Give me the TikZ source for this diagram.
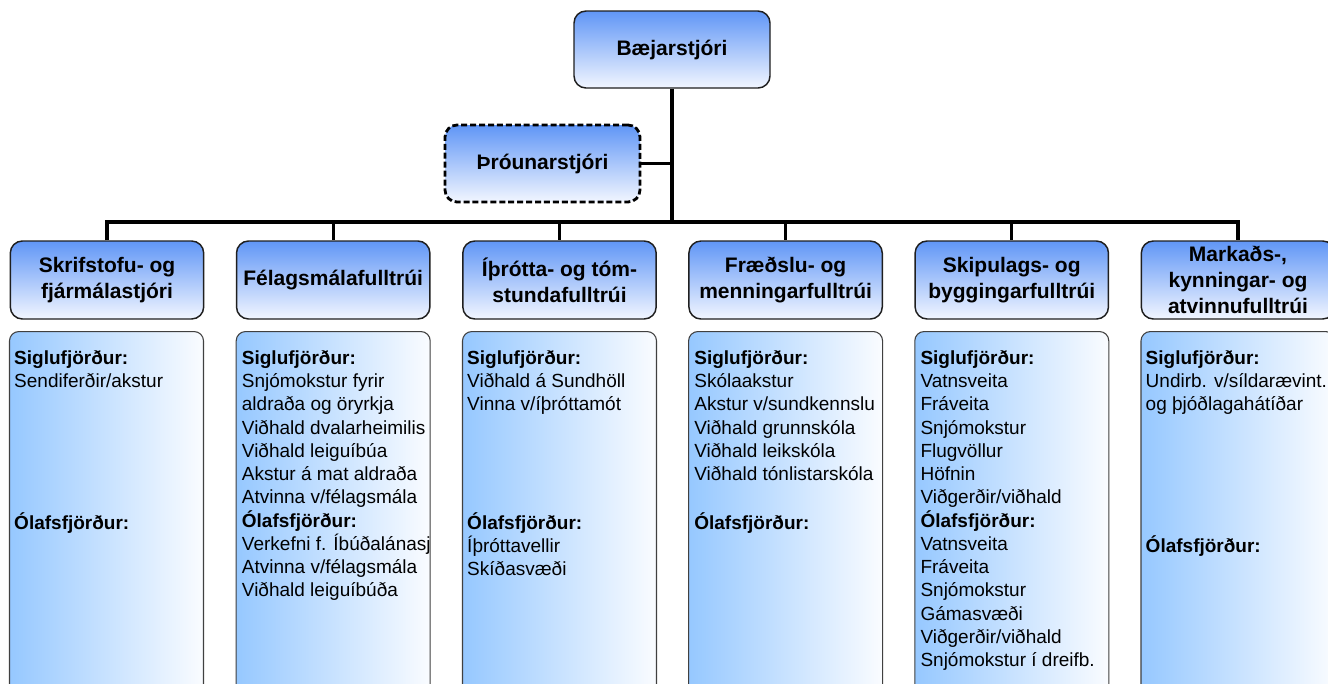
\documentclass[tikz,border=0pt]{standalone}
\usepackage{fontspec}
\setmainfont{Liberation Sans}
\definecolor{hdtop}{RGB}{96,150,246}
\definecolor{hdbot}{RGB}{242,246,255}
\definecolor{bdl}{RGB}{150,200,255}
\definecolor{bdr}{RGB}{250,252,255}
\pgfdeclarehorizontalshading{bodyshade}{100bp}{color(0bp)=(bdl); color(25bp)=(bdl); color(75bp)=(bdr); color(100bp)=(bdr)}
\begin{document}
\begin{tikzpicture}[x=0.75pt,y=-0.75pt,
  hdr/.style={draw=black!88, line width=1.1pt, rounded corners=9pt, top color=hdtop, bottom color=hdbot,
    minimum width=145pt, minimum height=58.5pt, align=center, inner sep=0pt,
    font=\bfseries\fontsize{15.75}{19.3}\selectfont},
  bodyb/.style={draw=black!75, line width=0.8pt, rounded corners=7pt, shading=bodyshade, shading angle=0,
    minimum width=145.5pt, minimum height=277pt, anchor=north, inner sep=0pt},
  btext/.style={anchor=north west, align=left, inner sep=0pt, font=\fontsize{14.25}{17.42}\selectfont},
  conn/.style={line width=2.5pt, line join=miter}
]
\clip (0,0) rectangle (1328,683);
\fill[white] (0,0) rectangle (1328,683);

% top
\node[hdr, minimum width=147pt, minimum height=57.75pt] (boss) at (672,49.5) {Bæjarstjóri};
\node[hdr, minimum width=146.25pt, minimum height=57.75pt, dash pattern=on 4.5pt off 2.2pt, line width=2.1pt, draw=black] (dev) at (542.5,163.5) {Þróunarstjóri};
\coordinate (bar) at (672,222);

% headers
\node[hdr] (h1) at (107,280) {Skrifstofu- og\\fjármálastjóri};
\node[hdr] (h2) at (333.2,280) {Félagsmálafulltrúi};
\node[hdr] (h3) at (559.5,280) {Íþrótta- og tóm-\\stundafulltrúi};
\node[hdr] (h4) at (785.6,280) {Fræðslu- og\\menningarfulltrúi};
\node[hdr] (h5) at (1011.8,280) {Skipulags- og\\byggingarfulltrúi};
\node[hdr] (h6) at (1238,280) {Markaðs-,\\kynningar- og\\atvinnufulltrúi};

% connectors
\draw[conn] (boss.south) -- (bar);
\draw[conn] (dev.east) -- (dev.east -| bar);
\draw[conn] (h1.north) |- (h6.north |- bar) -- (h6.north);
\foreach \h in {h2,h3,h4,h5}{\draw[conn] (\h.north |- bar) -- (\h.north);}

% bodies
\node[bodyb] (b1) at (106.5,331) {};
\node[bodyb] (b2) at (333.2,331) {};
\node[bodyb] (b3) at (559.5,331) {};
\node[bodyb] (b4) at (785.6,331) {};
\node[bodyb] (b5) at (1011.8,331) {};
\node[bodyb] (b6) at (1238,331) {};

\begin{scope}
\clip (b1.north west) rectangle (b1.south east);
\node[btext] (t1) at ([xshift=3.75pt,yshift=-12.75pt]b1.north west) {\strut\textbf{Siglufjörður:}\\Sendiferðir/akstur\\ \strut\\ \strut\\ \strut\\ \strut\\ \strut\\ \textbf{Ólafsfjörður:}};
\end{scope}
\begin{scope}
\clip (b2.north west) rectangle (b2.south east);
\node[btext] (t2) at ([xshift=4.5pt,yshift=-12.75pt]b2.north west) {\strut\textbf{Siglufjörður:}\\Snjómokstur fyrir\\aldraða og öryrkja\\Viðhald dvalarheimilis\\Viðhald leiguíbúa\\Akstur á mat aldraða\\Atvinna v/félagsmála\\\textbf{Ólafsfjörður:}\\Verkefni f. Íbúðalánasj\\Atvinna v/félagsmála\\Viðhald leiguíbúða};
\end{scope}
\begin{scope}
\clip (b3.north west) rectangle (b3.south east);
\node[btext] (t3) at ([xshift=3.75pt,yshift=-12.75pt]b3.north west) {\strut\textbf{Siglufjörður:}\\Viðhald á Sundhöll\\Vinna v/íþróttamót\\ \strut\\ \strut\\ \strut\\ \strut\\ \textbf{Ólafsfjörður:}\\Íþróttavellir\\Skíðasvæði};
\end{scope}
\begin{scope}
\clip (b4.north west) rectangle (b4.south east);
\node[btext] (t4) at ([xshift=4.5pt,yshift=-12.75pt]b4.north west) {\strut\textbf{Siglufjörður:}\\Skólaakstur\\Akstur v/sundkennslu\\Viðhald grunnskóla\\Viðhald leikskóla\\Viðhald tónlistarskóla\\ \strut\\ \textbf{Ólafsfjörður:}};
\end{scope}
\begin{scope}
\clip (b5.north west) rectangle (b5.south east);
\node[btext] (t5) at ([xshift=4.5pt,yshift=-12.75pt]b5.north west) {\strut\textbf{Siglufjörður:}\\Vatnsveita\\Fráveita\\Snjómokstur\\Flugvöllur\\Höfnin\\Viðgerðir/viðhald\\\textbf{Ólafsfjörður:}\\Vatnsveita\\Fráveita\\Snjómokstur\\Gámasvæði\\Viðgerðir/viðhald\\Snjómokstur í dreifb.};
\end{scope}
\begin{scope}
\clip (b6.north west) rectangle (b6.south east);
\node[btext] (t6) at ([xshift=3.75pt,yshift=-12.75pt]b6.north west) {\strut\textbf{Siglufjörður:}\\Undirb. v/síldarævint.\\og þjóðlagahátíðar\\ \strut\\ \strut\\ \strut\\ \strut\\ \strut\\ \textbf{Ólafsfjörður:}};
\end{scope}
\end{tikzpicture}
\end{document}
